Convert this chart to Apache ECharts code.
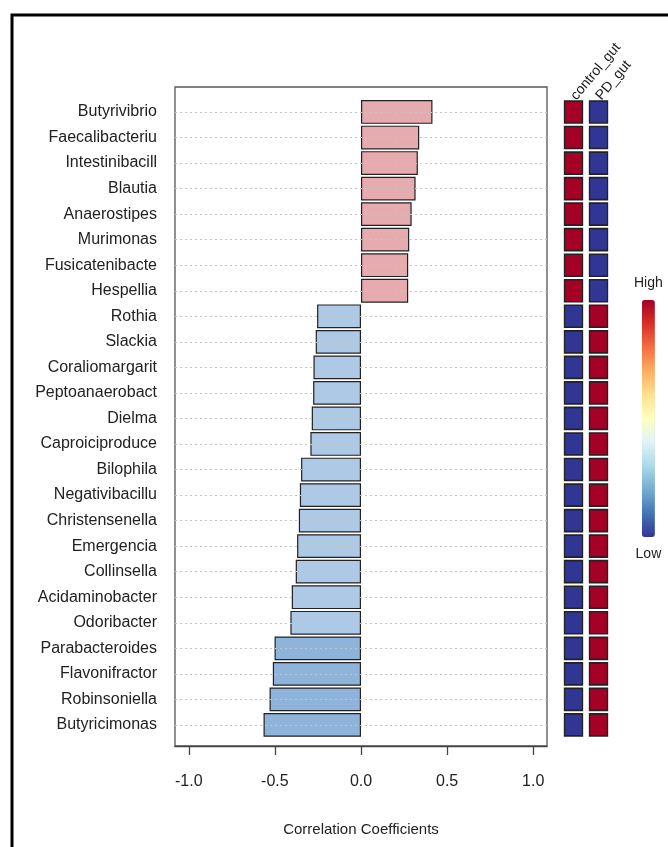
<!DOCTYPE html>
<html>
<head>
<meta charset="utf-8">
<script src="https://cdn.jsdelivr.net/npm/echarts@6/dist/echarts.min.js"></script>
<style>
  html, body { margin: 0; padding: 0; background: #fff; }
  #chart { width: 668px; height: 847px; }
</style>
</head>
<body>
<div id="chart"></div>
<script>
// Genera ordered from most positive to most negative correlation
const genera = [
  'Butyrivibrio', 'Faecalibacteriu', 'Intestinibacill', 'Blautia', 'Anaerostipes',
  'Murimonas', 'Fusicatenibacte', 'Hespellia', 'Rothia', 'Slackia',
  'Coraliomargarit', 'Peptoanaerobact', 'Dielma', 'Caproiciproduce', 'Bilophila',
  'Negativibacillu', 'Christensenella', 'Emergencia', 'Collinsella', 'Acidaminobacter',
  'Odoribacter', 'Parabacteroides', 'Flavonifractor', 'Robinsoniella', 'Butyricimonas'
];

// Correlation coefficient of each genus
const corr = [
  0.415, 0.338, 0.330, 0.317, 0.294,
  0.280, 0.274, 0.274, -0.255, -0.263,
  -0.276, -0.278, -0.286, -0.294, -0.348,
  -0.355, -0.361, -0.371, -0.379, -0.402,
  -0.410, -0.502, -0.512, -0.531, -0.566
];

// Group columns of the side heatmap
const groups = ['control_gut', 'PD_gut'];

// Relative abundance level in each group (1 = high, 0 = low)
const controlLevel = [1, 1, 1, 1, 1, 1, 1, 1, 0, 0, 0, 0, 0, 0, 0, 0, 0, 0, 0, 0, 0, 0, 0, 0, 0];
const pdLevel      = [0, 0, 0, 0, 0, 0, 0, 0, 1, 1, 1, 1, 1, 1, 1, 1, 1, 1, 1, 1, 1, 1, 1, 1, 1];

// Ticks along the correlation axis
const xTicks = [-1.0, -0.5, 0.0, 0.5, 1.0];

// Colour scale for the heatmap (low -> high)
const scaleColors = ['#313695', '#4575b4', '#74add1', '#abd9e9', '#e0f3f8', '#ffffbf',
                     '#fee090', '#fdae61', '#f46d43', '#d73027', '#a50026'];

function barColor(v) {
  if (v > 0) return '#e6abaf';
  if (v > -0.45) return '#adc9e6';
  return '#8eb4dc';
}

const heatData = [];
genera.forEach((g, i) => {
  heatData.push([groups[0], g, controlLevel[i]]);
  heatData.push([groups[1], g, pdLevel[i]]);
});

const font = 'Liberation Sans, Arial, sans-serif';
const chart = echarts.init(document.getElementById('chart'), null, { renderer: 'canvas' });

const barTop = 99.2;
const barHeight = 638.5;

chart.setOption({
  backgroundColor: '#fff',
  animation: false,
  textStyle: { fontFamily: font },
  graphic: [{
    type: 'rect',
    shape: { x: 12, y: 15, width: 720, height: 900 },
    style: { fill: 'none', stroke: '#000', lineWidth: 3 },
    silent: true
  }],
  grid: [
    { left: 175, right: 121, top: 87, bottom: 101, show: true,
      borderColor: '#555', borderWidth: 1.3, backgroundColor: 'transparent' },
    { left: 175, right: 121, top: barTop, height: barHeight },
    { left: 561, width: 50, top: barTop, height: barHeight }
  ],
  xAxis: [
    {
      gridIndex: 0, type: 'value', min: -1.08, max: 1.08,
      axisLine: { show: true, lineStyle: { color: '#444', width: 1.3 } },
      axisTick: { show: true, customValues: xTicks, length: 9, lineStyle: { color: '#444', width: 1.3 } },
      axisLabel: {
        customValues: xTicks, color: '#222', fontSize: 16, margin: 28,
        formatter: v => v.toFixed(1)
      },
      splitLine: { show: false },
      name: 'Correlation Coefficients', nameLocation: 'middle', nameGap: 76,
      nameTextStyle: { color: '#222', fontSize: 15 }
    },
    { gridIndex: 1, type: 'value', min: -1.08, max: 1.08, show: false },
    {
      gridIndex: 2, type: 'category', data: groups, position: 'top',
      axisLine: { show: false }, axisTick: { show: false },
      axisLabel: { interval: 0, hideOverlap: false, rotate: -50, color: '#222', fontSize: 14, margin: 1 }
    }
  ],
  yAxis: [
    { gridIndex: 0, type: 'value', min: 0, max: 1, show: false },
    {
      gridIndex: 1, type: 'category', data: genera, inverse: true,
      axisLine: { show: false }, axisTick: { show: false },
      axisLabel: { interval: 0, color: '#222', fontSize: 16, margin: 18 }
    },
    { gridIndex: 2, type: 'category', data: genera, inverse: true, show: false }
  ],
  visualMap: {
    type: 'continuous', seriesIndex: 2, min: 0, max: 1,
    calculable: false, hoverLink: false,
    inRange: { color: scaleColors },
    text: ['High', 'Low'], textGap: 10,
    textStyle: { color: '#222', fontSize: 14 },
    itemWidth: 13, itemHeight: 237,
    left: 619, top: 261
  },
  series: [
    {
      // dotted guide line through each genus row
      type: 'scatter', xAxisIndex: 1, yAxisIndex: 1, data: [], z: 1, silent: true,
      markLine: {
        silent: true, symbol: ['none', 'none'], label: { show: false },
        lineStyle: { color: '#c4c4c4', type: [2, 3], width: 1.2 },
        data: genera.map(g => ({ yAxis: g }))
      }
    },
    {
      type: 'bar', xAxisIndex: 1, yAxisIndex: 1, z: 3,
      barCategoryGap: '7%',
      data: corr.map(v => ({
        value: v,
        itemStyle: { color: barColor(v), borderColor: '#222', borderWidth: 1.2 }
      }))
    },
    {
      type: 'scatter', xAxisIndex: 2, yAxisIndex: 2, z: 3,
      symbol: 'rect', symbolSize: [18, 22],
      itemStyle: { borderColor: '#222', borderWidth: 1.5, opacity: 1 },
      data: heatData
    }
  ]
});
</script>
</body>
</html>
